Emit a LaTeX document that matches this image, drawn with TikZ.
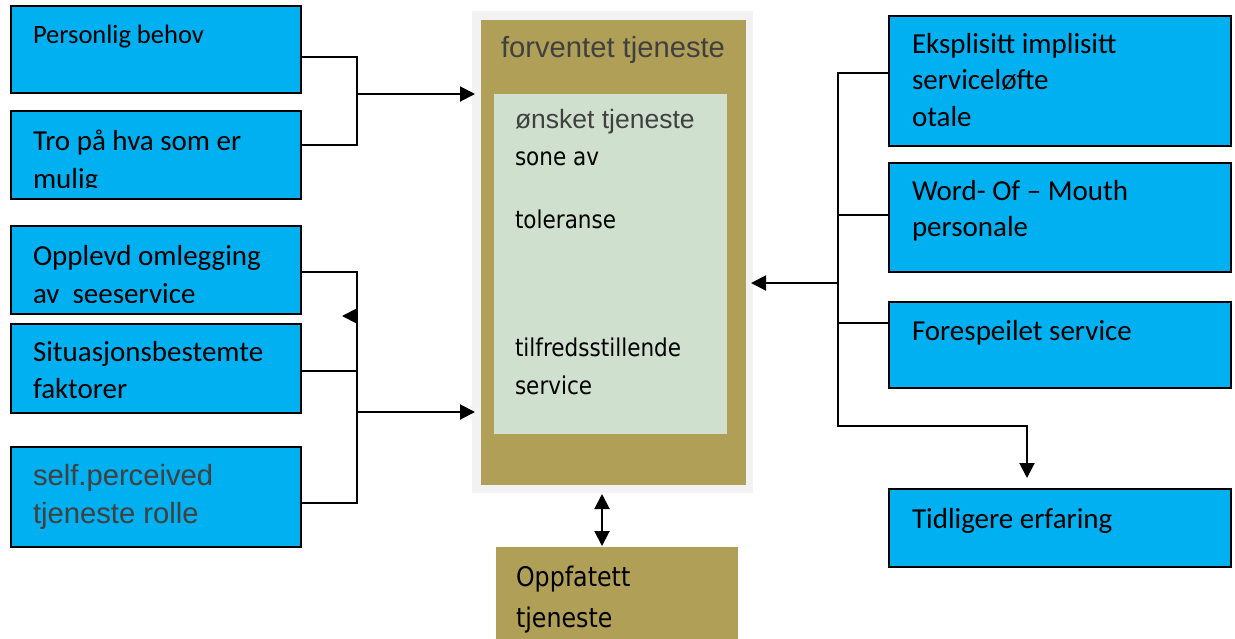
\documentclass[tikz,border=0pt]{standalone}
\usepackage{fontspec}
\setmainfont{Carlito}
\newfontfamily\arialfont{Liberation Sans}
\newfontfamily\tahfont[FakeStretch=0.88]{DejaVu Sans}
\usetikzlibrary{arrows.meta}
\definecolor{boxblue}{RGB}{0,176,240}
\definecolor{exolive}{RGB}{176,160,87}
\definecolor{zonegreen}{RGB}{207,224,206}
\definecolor{bggray}{RGB}{242,242,242}
\definecolor{txtgray}{RGB}{64,64,64}

\begin{document}
\begin{tikzpicture}[x=0.5pt, y=-0.5pt, >={Triangle[length=7.5pt,width=7.5pt]}, line width=1pt,
  box/.style={rectangle, draw, line width=1pt, fill=boxblue, inner sep=0pt},
  area/.style={rectangle, inner sep=0pt},
  txt/.style={anchor=base west, inner sep=0pt, align=left, font=\fontsize{14.5}{18.25}\selectfont}]
\path[use as bounding box, fill=white] (0,0) rectangle (1235,638);

% centre (text nodes sit on the baseline of their last line)
\node (bg) [area, fill=bggray, minimum width=140.5pt, minimum height=241pt] at (612.5,252) {};
\node (fv) [area, fill=exolive, minimum width=132.5pt, minimum height=232.5pt] at (613.5,252.5) {};
\node (ot) [area, fill=zonegreen, minimum width=116.5pt, minimum height=170pt] at (610.5,264) {};
\node (op) [area, fill=exolive, minimum width=121pt, minimum height=49pt] at (617,596) {};
\node (tfv) [txt, font=\arialfont\fontsize{14.6}{18}\selectfont, text=txtgray] at (500,57) {forventet tjeneste};
\node (tot) [txt, font=\arialfont\fontsize{13.25}{16}\selectfont, text=txtgray] at (514,128) {ønsket tjeneste};
\node (tsone) [txt, font=\tahfont\fontsize{12.25}{19}\selectfont] at (514,228) {sone av\\[12.5pt]toleranse};
\node (ttilf) [txt, font=\tahfont\fontsize{12.25}{19}\selectfont] at (514,394) {tilfredsstillende\\service};
\node (top) [txt, font=\tahfont\fontsize{13.5}{20.5}\selectfont] at (515,627) {Oppfatett\\tjeneste};

% left
\node (pb) [box, minimum width=145pt, minimum height=43.5pt] at (156,49.5) {};
\node (tr) [box, minimum width=145pt, minimum height=44pt] at (156,155) {};
\node (oo) [box, minimum width=145pt, minimum height=44pt] at (156,270) {};
\node (sb) [box, minimum width=145pt, minimum height=44.5pt] at (156,368.5) {};
\node (sp) [box, minimum width=145pt, minimum height=50pt] at (156,497) {};
\node (tpb) [txt, font=\fontsize{13.25}{16}\selectfont] at (32,43) {Personlig behov};
\begin{scope}
\clip (11,111) rectangle (301,187);
\node (ttr) [txt, font=\fontsize{14.5}{19.25}\selectfont] at (32,188.5) {Tro på hva som er\\mulig};
\end{scope}
\begin{scope}
\clip (11,226) rectangle (301,302);
\node (too) [txt, font=\fontsize{14.5}{19.25}\selectfont] at (32,303.5) {Opplevd omlegging\\av~~seeservice};
\end{scope}
\node (tsb) [txt] at (32,398) {Situasjonsbestemte\\faktorer};
\node (tsp) [txt, font=\arialfont\fontsize{14.6}{19}\selectfont, text=txtgray] at (32,523) {self.perceived\\tjeneste rolle};

% right
\node (ei) [box, minimum width=171pt, minimum height=65pt] at (1060,81) {};
\node (wm) [box, minimum width=171pt, minimum height=54.5pt] at (1060,217.5) {};
\node (fs) [box, minimum width=171pt, minimum height=43pt] at (1060,345) {};
\node (te) [box, minimum width=171pt, minimum height=39pt] at (1060,528) {};
\node (tei) [txt] at (911,126) {Eksplisitt implisitt\\serviceløfte\\otale};
\node (twm) [txt] at (911,236.5) {Word- Of – Mouth\\personale};
\node (tfs) [txt] at (911,340) {Forespeilet service};
\node (tte) [txt] at (911,528) {Tidligere erfaring};

% connectors
\coordinate (busa1) at (357,57);
\coordinate (busa2) at (357,145);
\coordinate (busa) at (357,94);
\draw (pb.east |- busa1) -- (busa1) -- (busa2) -- (tr.east |- busa2);
\draw[->, shorten >=2.5pt] (busa) -- (fv.west |- busa);

\coordinate (busb1) at (357,272);
\coordinate (busb2) at (357,503);
\coordinate (busb3) at (357,371);
\coordinate (busb) at (357,412);
\coordinate (stub) at (357,316);
\coordinate (stubtip) at (342,316);
\draw (oo.east |- busb1) -- (busb1) -- (busb2) -- (sp.east |- busb2);
\draw (sb.east |- busb3) -- (busb3);
\draw[->, shorten >=2.5pt] (busb) -- (fv.west |- busb);
\draw[->] (stub) -- (stubtip);

\coordinate (busc1) at (838,73);
\coordinate (busc2) at (838,426);
\coordinate (busc3) at (838,215);
\coordinate (busc4) at (838,323);
\coordinate (busc) at (838,283);
\coordinate (elbow) at (1027,426);
\draw[->, shorten >=5pt] (ei.west |- busc1) -- (busc1) -- (busc2) -- (elbow) -- (te.north -| elbow);
\draw (wm.west |- busc3) -- (busc3);
\draw (fs.west |- busc4) -- (busc4);
\draw[->, shorten >=2pt] (busc) -- (fv.east |- busc);

\coordinate (dax) at (602,0);
\draw[<->] (bg.south -| dax) -- (op.north -| dax);
\end{tikzpicture}
\end{document}
